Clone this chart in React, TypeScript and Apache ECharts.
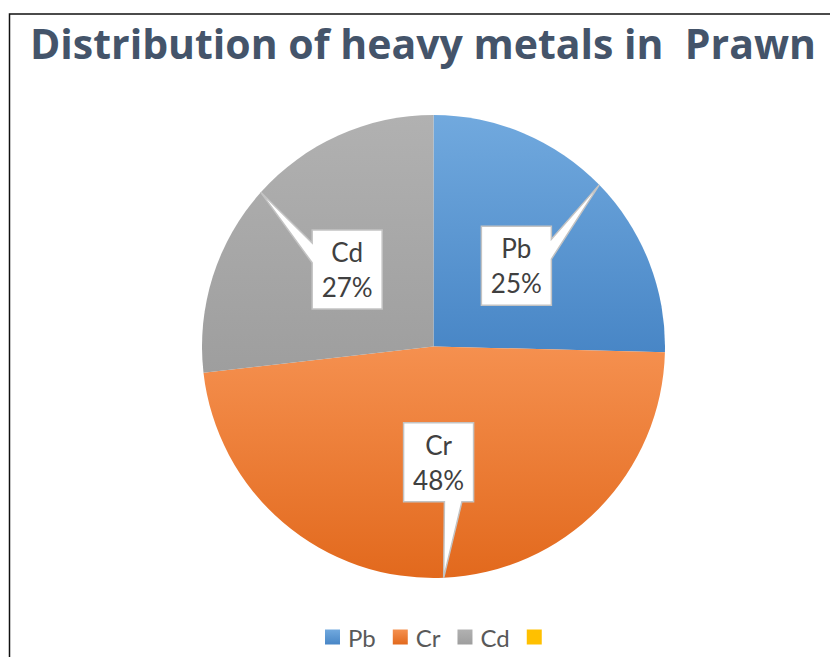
import React, { useEffect, useRef } from "react";
import * as echarts from "echarts";

const titleText = "Distribution of heavy metals in  Prawn";
const names = ["Pb", "Cr", "Cd", " "];
const values = [25.4, 47.8, 26.8, 0];
const topColors = ["#71a9de", "#f5904f", "#b1b1b1", "#ffc000"];
const bottomColors = ["#4886c6", "#e2691d", "#9e9e9e", "#ffc000"];

const CX = 433.5;
const CY = 346.5;
const R = 231.5;
const BOX_W = 70;
const BOX_H = 79;
const FONT = "Lato, 'Open Sans', sans-serif";
const TITLE_FONT = "'Open Sans', 'Noto Sans', sans-serif";

export default function App() {
  const ref = useRef<HTMLDivElement>(null);
  useEffect(() => {
    if (!ref.current) return;
    const chart = echarts.init(ref.current, undefined, { renderer: "svg" });
    const total = values.reduce((a, b) => a + b, 0);
    const labelled = names
      .map((n, i) => ({ name: n, value: values[i], idx: i }))
      .filter((d) => d.value > 0);

    const renderItem = (params: any, api: any) => {
      const d = labelled[params.dataIndex];
      const i = d.idx;
      let before = 0;
      for (let k = 0; k < i; k++) before += values[k];
      const mid = ((before + values[i] / 2) / total) * Math.PI * 2;
      const sx = Math.sin(mid);
      const sy = -Math.cos(mid);
      const lx = CX + R * 0.5 * sx;
      const ly = CY + R * 0.5 * sy;
      const tx = CX + R * sx;
      const ty = CY + R * sy;
      const w = BOX_W;
      const h = BOX_H;
      const left = lx - w / 2;
      const top = ly - h / 2;
      const right = left + w;
      const bottom = top + h;
      const dxPos = tx - lx;
      const dyPos = ty - ly;
      const dx = (dxPos * h) / w;
      let pts: number[][];
      if (Math.abs(dx) > Math.abs(dyPos)) {
        const y1 = top + (h * (dyPos > 0 ? 7 : 2)) / 12;
        const y2 = top + (h * (dyPos > 0 ? 10 : 5)) / 12;
        if (dxPos > 0) {
          pts = [[left, top], [right, top], [right, y1], [tx, ty], [right, y2], [right, bottom], [left, bottom]];
        } else {
          pts = [[left, top], [right, top], [right, bottom], [left, bottom], [left, y2], [tx, ty], [left, y1]];
        }
      } else {
        const x1 = left + (w * (dxPos > 0 ? 7 : 2)) / 12;
        const x2 = left + (w * (dxPos > 0 ? 10 : 5)) / 12;
        if (dyPos > 0) {
          pts = [[left, top], [right, top], [right, bottom], [x2, bottom], [tx, ty], [x1, bottom], [left, bottom]];
        } else {
          pts = [[left, top], [x1, top], [tx, ty], [x2, top], [right, top], [right, bottom], [left, bottom]];
        }
      }
      const pct = Math.round((values[i] / total) * 100);
      return {
        type: "group",
        children: [
          {
            type: "polygon",
            shape: { points: pts },
            style: { fill: "#ffffff", stroke: "#c3c3c3", lineWidth: 1.5 },
          },
          {
            type: "text",
            style: {
              text: d.name + "\n" + pct + "%",
              x: lx,
              y: ly,
              align: "center",
              verticalAlign: "middle",
              fontSize: 26,
              fontFamily: FONT,
              lineHeight: 35,
              fill: "#404040",
            },
          },
        ],
      };
    };

    chart.setOption({
      animation: false,
      backgroundColor: "#ffffff",
      title: {
        text: titleText,
        left: 25,
        top: 17,
        textStyle: { fontFamily: TITLE_FONT, fontWeight: "bold", fontSize: 41, color: "#44546a" },
      },
      legend: {
        data: names,
        left: 320,
        top: 620,
        itemWidth: 15,
        itemHeight: 15,
        itemGap: 17,
        icon: "rect",
        textStyle: { fontFamily: FONT, fontSize: 24, color: "#595959", padding: [0, 0, 0, 3] },
      },
      graphic: [
        {
          type: "rect",
          shape: { x: 9.5, y: 14, width: 900, height: 800 },
          style: { fill: "none", stroke: "#111", lineWidth: 1.5 },
          silent: true,
        },
      ],
      series: [
        {
          type: "pie",
          center: [CX, CY],
          radius: R,
          startAngle: 90,
          clockwise: true,
          label: { show: false },
          labelLine: { show: false },
          emphasis: { disabled: true },
          data: names.map((n, i) => ({
            name: n,
            value: values[i],
            itemStyle: {
              color: new echarts.graphic.LinearGradient(0, 0, 0, 1, [
                { offset: 0, color: topColors[i] },
                { offset: 1, color: bottomColors[i] },
              ]),
            },
          })),
        },
        {
          type: "custom",
          coordinateSystem: "none",
          renderItem,
          silent: true,
          z: 5,
          data: labelled.map((d) => d.value),
        },
      ],
    });
    return () => chart.dispose();
  }, []);
  return (
    <div
      ref={ref}
      style={{ position: "fixed", left: 0, top: 0, width: 830, height: 657 }}
    />
  );
}
